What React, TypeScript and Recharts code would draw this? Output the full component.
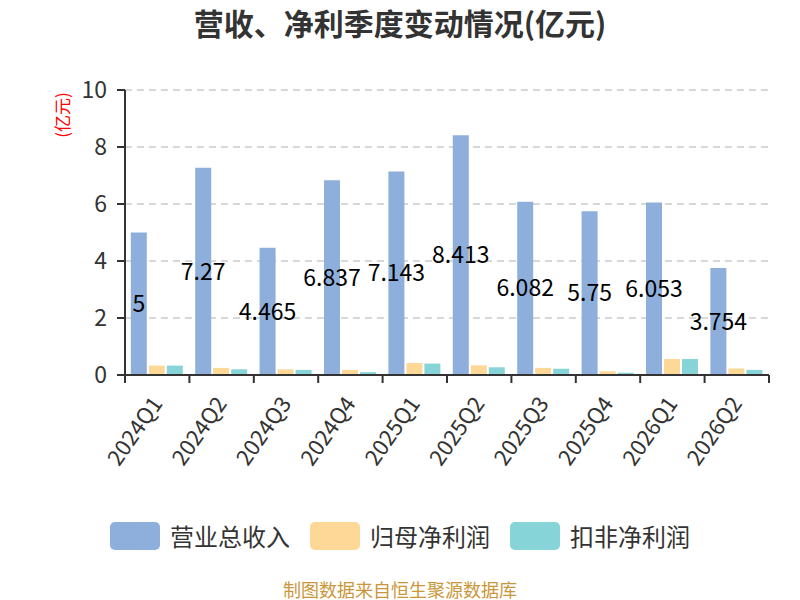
import React from 'react';
import { BarChart, Bar, XAxis, YAxis, CartesianGrid, LabelList } from 'recharts';

const categories = ['2024Q1', '2024Q2', '2024Q3', '2024Q4', '2025Q1', '2025Q2', '2025Q3', '2025Q4', '2026Q1', '2026Q2'];
const revenue = [5, 7.27, 4.465, 6.837, 7.143, 8.413, 6.082, 5.75, 6.053, 3.754];
const netProfit = [0.33, 0.25, 0.2, 0.18, 0.42, 0.34, 0.25, 0.13, 0.56, 0.23];
const deductedProfit = [0.33, 0.2, 0.18, 0.1, 0.4, 0.27, 0.22, 0.08, 0.56, 0.18];
const yTicks = [0, 2, 4, 6, 8, 10];

const seriesNames = ['营业总收入', '归母净利润', '扣非净利润'];
const seriesColors = ['#8eaedb', '#fed897', '#87d4d8'];
const seriesKeys = ['revenue', 'netProfit', 'deductedProfit'];

const data = categories.map((c, i) => ({
  name: c,
  revenue: revenue[i],
  netProfit: netProfit[i],
  deductedProfit: deductedProfit[i],
}));

const W = 800;
const H = 600;
const M = { top: 90, right: 31, bottom: 125, left: 65 };
const Y_W = 60;
const PLOT_W = W - M.left - M.right - Y_W;
const BAND = PLOT_W / categories.length;
const FONT = '"Noto Sans CJK SC", "Noto Sans", sans-serif';

const XTick = (props: any) => {
  const { x, y, payload, index } = props;
  const left = x - BAND / 2;
  const isLast = index === categories.length - 1;
  const ax = x - 2;
  const ay = y + 15;
  return (
    <g>
      <line x1={left} y1={y - 8} x2={left} y2={y} stroke="#333" strokeWidth={2} />
      {isLast && <line x1={x + BAND / 2} y1={y - 8} x2={x + BAND / 2} y2={y} stroke="#333" strokeWidth={2} />}
      <text
        x={ax}
        y={ay}
        textAnchor="end"
        dominantBaseline="central"
        transform={`rotate(-55, ${ax}, ${ay})`}
        fontSize={22}
        fill="#333"
        fontFamily={FONT}
      >
        {payload.value}
      </text>
    </g>
  );
};

export default function App() {
  return (
    <div style={{ position: 'absolute', left: 0, top: 0, width: W, height: H, background: '#fff', fontFamily: FONT }}>
      <div style={{ position: 'absolute', left: 0, top: 0, width: W, height: 44, lineHeight: '44px', textAlign: 'center', fontSize: 30, fontWeight: 'bold', color: '#333' }}>
        营收、净利季度变动情况(亿元)
      </div>
      <div style={{ position: 'absolute', left: 62 - 30, top: 115 - 11, width: 60, height: 22, lineHeight: '22px', textAlign: 'center', fontSize: 17, color: '#ff0000', transform: 'rotate(-90deg)' }}>
        (亿元)
      </div>
      <BarChart width={W} height={H} data={data} margin={M} barCategoryGap="9%" barGap={2}>
        <CartesianGrid vertical={false} stroke="#cccccc" strokeDasharray="7 5" strokeWidth={1.5} />
        <XAxis
          dataKey="name"
          height={100}
          tickLine={false}
          axisLine={{ stroke: '#333', strokeWidth: 2 }}
          tick={<XTick />}
          interval={0}
        />
        <YAxis
          width={Y_W}
          domain={[0, 10]}
          ticks={yTicks}
          tickSize={8}
          tickMargin={10}
          axisLine={{ stroke: '#333', strokeWidth: 2 }}
          tickLine={{ stroke: '#333', strokeWidth: 2 }}
          tick={{ fontSize: 23, fill: '#333', fontFamily: FONT }}
        />
        {seriesKeys.map((k, i) => (
          <Bar key={k} dataKey={k} name={seriesNames[i]} fill={seriesColors[i]} isAnimationActive={false}>
            {i === 0 && <LabelList dataKey={k} position="center" fill="#000" fontSize={23} fontFamily={FONT} />}
          </Bar>
        ))}
      </BarChart>
      {seriesNames.map((n, i) => (
        <div key={n} style={{ position: 'absolute', left: 110 + 200 * i, top: 522, display: 'flex', alignItems: 'center', height: 28 }}>
          <div style={{ width: 50, height: 28, borderRadius: 5, background: seriesColors[i] }} />
          <div style={{ marginLeft: 10, fontSize: 24, color: '#333', lineHeight: '28px', whiteSpace: 'nowrap' }}>{n}</div>
        </div>
      ))}
      <div style={{ position: 'absolute', left: 0, top: 579, width: W, height: 20, lineHeight: '20px', textAlign: 'center', fontSize: 18, color: '#c9973a', whiteSpace: 'nowrap' }}>
        制图数据来自恒生聚源数据库
      </div>
    </div>
  );
}
